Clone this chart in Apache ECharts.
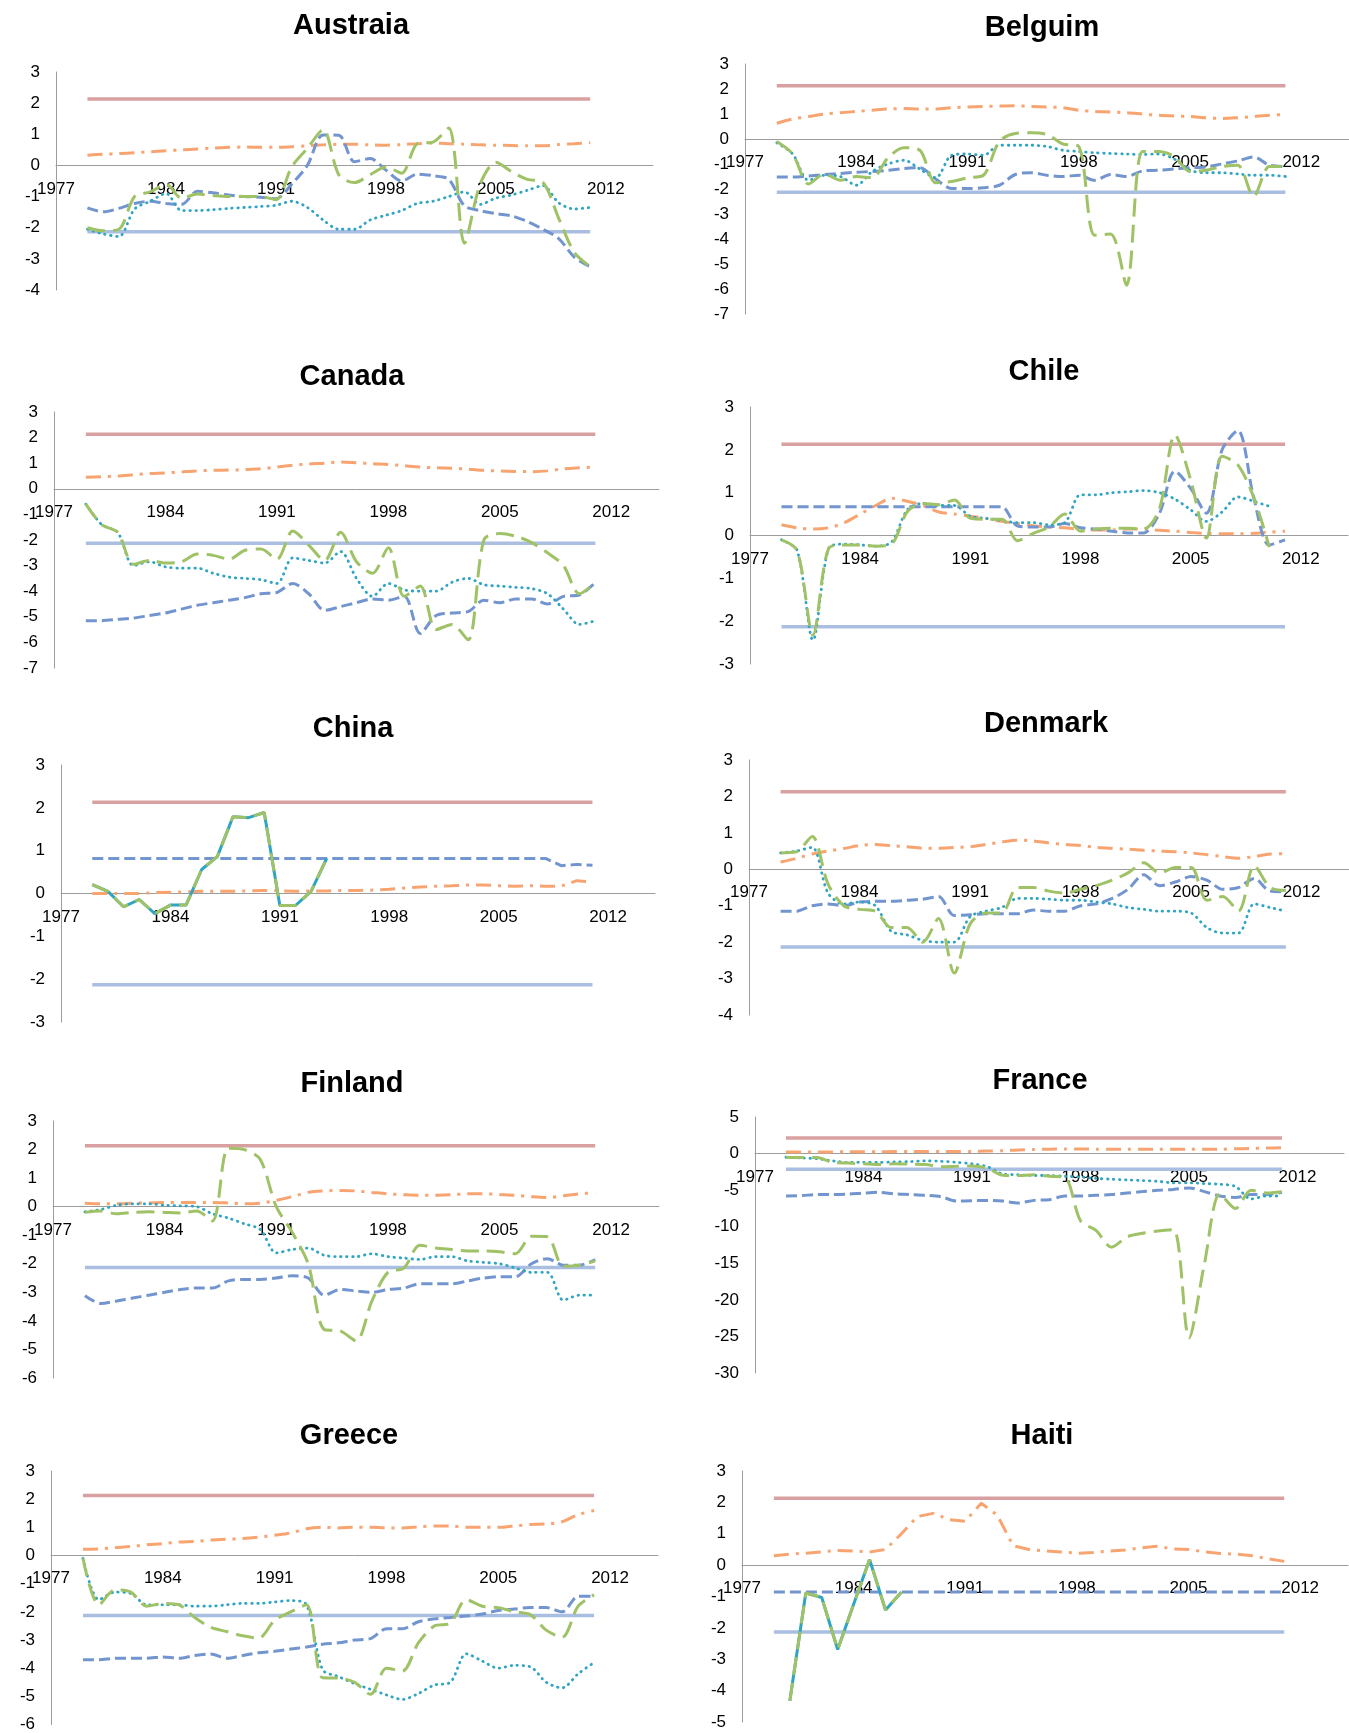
<!DOCTYPE html>
<html>
<head>
<meta charset="utf-8">
<title>Country panels</title>
<script src="https://cdn.jsdelivr.net/npm/echarts@6/dist/echarts.min.js"></script>
<style>
  html, body { margin: 0; padding: 0; background: #ffffff; }
  #chart { width: 1349px; height: 1733px; }
</style>
</head>
<body>
<div id="chart"></div>
<script>
// Annual observations 1979-2011
const years = [1979,1980,1981,1982,1983,1984,1985,1986,1987,1988,1989,1990,1991,1992,1993,1994,1995,1996,1997,1998,1999,2000,2001,2002,2003,2004,2005,2006,2007,2008,2009,2010,2011];
const xTickLabels = [1977, 1984, 1991, 1998, 2005, 2012];
const upperBound = 2.13;
const lowerBound = -2.13;

// Austraia
const austraiaDashDot = [0.33,0.36,0.38,0.41,0.44,0.47,0.50,0.53,0.56,0.58,0.59,0.58,0.58,0.60,0.63,0.66,0.68,0.68,0.66,0.65,0.67,0.70,0.72,0.70,0.68,0.66,0.65,0.64,0.63,0.63,0.67,0.70,0.73];
const austraiaDash = [-1.36,-1.49,-1.38,-1.22,-1.15,-1.22,-1.25,-0.83,-0.88,-0.95,-1.0,-1.02,-1.07,-0.6,0.0,0.98,0.97,0.12,0.22,-0.15,-0.5,-0.28,-0.33,-0.45,-1.3,-1.45,-1.55,-1.62,-1.8,-2.05,-2.35,-2.95,-3.25];
const austraiaLongDash = [-2.0,-2.1,-2.05,-1.0,-0.85,-0.6,-1.05,-0.92,-0.97,-1.0,-1.0,-1.0,-1.1,-0.05,0.55,1.15,-0.3,-0.55,-0.3,-0.05,-0.25,0.7,0.75,1.2,-2.5,-0.6,0.1,-0.2,-0.45,-0.55,-1.7,-2.8,-3.25];
const austraiaDot = [-2.05,-2.2,-2.28,-1.4,-1.15,-0.9,-1.45,-1.45,-1.42,-1.38,-1.35,-1.32,-1.28,-1.15,-1.35,-1.75,-2.05,-2.05,-1.75,-1.6,-1.45,-1.22,-1.15,-1.0,-0.85,-1.25,-1.05,-0.95,-0.8,-0.65,-1.2,-1.4,-1.35];

// Belgium
const belgiumDashDot = [0.63,0.8,0.9,1.0,1.05,1.1,1.15,1.2,1.22,1.2,1.2,1.25,1.28,1.3,1.32,1.33,1.3,1.28,1.25,1.15,1.1,1.08,1.05,1.0,0.95,0.92,0.9,0.85,0.82,0.85,0.9,0.95,0.98];
const belgiumDash = [-1.52,-1.52,-1.48,-1.42,-1.38,-1.33,-1.3,-1.25,-1.18,-1.15,-1.6,-1.98,-1.98,-1.95,-1.85,-1.42,-1.35,-1.45,-1.5,-1.45,-1.65,-1.42,-1.5,-1.28,-1.25,-1.2,-1.15,-1.12,-1.0,-0.88,-0.72,-1.05,-1.1];
const belgiumLongDash = [-0.1,-0.6,-1.8,-1.4,-1.65,-1.5,-1.55,-0.75,-0.35,-0.45,-1.75,-1.7,-1.55,-1.45,-0.1,0.22,0.25,0.18,-0.2,-0.3,-3.85,-3.8,-5.85,-0.5,-0.5,-0.7,-1.3,-1.25,-1.1,-1.05,-2.3,-1.1,-1.1];
const belgiumDot = [-0.15,-0.6,-1.65,-1.45,-1.5,-1.85,-1.3,-1.0,-0.85,-1.2,-1.55,-0.65,-0.6,-0.65,-0.25,-0.25,-0.25,-0.3,-0.45,-0.5,-0.55,-0.58,-0.6,-0.62,-0.6,-0.8,-1.25,-1.35,-1.35,-1.4,-1.45,-1.45,-1.5];

// Canada
const canadaDashDot = [0.45,0.47,0.5,0.55,0.6,0.62,0.66,0.7,0.72,0.73,0.75,0.78,0.85,0.92,0.97,1.0,1.05,1.02,0.98,0.95,0.9,0.85,0.82,0.8,0.77,0.72,0.7,0.68,0.67,0.7,0.78,0.82,0.85];
const canadaDash = [-5.15,-5.15,-5.1,-5.05,-4.95,-4.85,-4.7,-4.55,-4.45,-4.35,-4.25,-4.1,-4.05,-3.7,-4.1,-4.75,-4.6,-4.45,-4.3,-4.35,-4.2,-5.65,-4.95,-4.85,-4.8,-4.35,-4.45,-4.3,-4.3,-4.5,-4.2,-4.15,-3.65];
const canadaLongDash = [-0.6,-1.4,-1.7,-2.95,-2.8,-2.9,-2.85,-2.55,-2.6,-2.75,-2.4,-2.35,-2.75,-1.65,-2.2,-2.8,-1.7,-2.85,-3.3,-2.3,-4.2,-3.8,-5.5,-5.3,-5.9,-2.0,-1.75,-1.85,-2.1,-2.5,-3.0,-4.1,-3.65];
const canadaDot = [-0.6,-1.4,-1.7,-3.0,-2.85,-3.05,-3.1,-3.1,-3.3,-3.45,-3.5,-3.55,-3.7,-2.7,-2.8,-2.9,-2.45,-3.5,-4.2,-3.7,-3.95,-4.0,-4.0,-3.65,-3.5,-3.75,-3.8,-3.85,-3.9,-4.1,-4.7,-5.3,-5.15];

// Chile
const chileDashDot = [0.25,0.18,0.15,0.18,0.3,0.5,0.7,0.87,0.8,0.7,0.55,0.5,0.45,0.4,0.33,0.28,0.23,0.2,0.18,0.14,0.13,0.13,0.15,0.15,0.12,0.1,0.07,0.05,0.04,0.04,0.05,0.08,0.1];
const chileDash = [0.67,0.67,0.67,0.67,0.67,0.67,0.67,0.67,0.67,0.67,0.67,0.67,0.67,0.67,0.67,0.22,0.2,0.2,0.28,0.18,0.15,0.1,0.06,0.06,0.5,1.5,1.1,0.52,2.0,2.45,0.9,-0.22,-0.1];
const chileLongDash = [-0.1,-0.35,-2.32,-0.3,-0.22,-0.22,-0.25,-0.2,0.56,0.75,0.72,0.83,0.4,0.38,0.38,-0.12,0.05,0.2,0.5,0.1,0.15,0.17,0.17,0.15,0.6,2.35,1.3,-0.06,1.85,1.65,0.9,-0.27,null];
const chileDot = [-0.1,-0.35,-2.44,-0.3,-0.2,-0.22,-0.25,-0.15,0.6,0.75,0.7,0.7,0.45,0.4,0.35,0.3,0.3,0.25,0.3,0.95,0.95,1.0,1.02,1.05,1.0,0.85,0.6,0.33,0.55,0.9,0.8,0.68,null];

// China
const chinaDashDot = [0.0,0.0,0.0,0.0,0.02,0.03,0.04,0.05,0.05,0.05,0.06,0.07,0.06,0.05,0.06,0.06,0.07,0.07,0.08,0.1,0.13,0.15,0.17,0.18,0.2,0.2,0.18,0.17,0.18,0.17,0.17,0.3,0.27];
const chinaDash = [0.82,0.82,0.82,0.82,0.82,0.82,0.82,0.82,0.82,0.82,0.82,0.82,0.82,0.82,0.82,0.82,0.82,0.82,0.82,0.82,0.82,0.82,0.82,0.82,0.82,0.82,0.82,0.82,0.82,0.82,0.65,0.68,0.66];
const chinaLongDash = [0.21,0.05,-0.31,-0.14,-0.47,-0.27,-0.27,0.56,0.86,1.79,1.77,1.89,-0.28,-0.28,0.05,0.82,null,null,null,null,null,null,null,null,null,null,null,null,null,null,null,null,null];
const chinaDot = [0.21,0.05,-0.31,-0.14,-0.47,-0.27,-0.27,0.56,0.86,1.79,1.77,1.89,-0.28,-0.28,0.05,0.82,null,null,null,null,null,null,null,null,null,null,null,null,null,null,null,null,null];

// Denmark
const denmarkDashDot = [0.2,0.3,0.42,0.5,0.57,0.65,0.68,0.65,0.62,0.58,0.58,0.6,0.62,0.68,0.75,0.8,0.78,0.72,0.68,0.65,0.6,0.58,0.55,0.52,0.5,0.48,0.45,0.4,0.35,0.3,0.35,0.42,0.43];
const denmarkDash = [-1.15,-1.15,-1.0,-0.95,-1.0,-0.9,-0.88,-0.88,-0.85,-0.82,-0.75,-1.27,-1.25,-1.22,-1.22,-1.22,-1.12,-1.15,-1.15,-1.0,-0.95,-0.8,-0.55,-0.15,-0.45,-0.35,-0.2,-0.3,-0.55,-0.5,-0.25,-0.6,-0.62];
const denmarkLongDash = [0.45,0.48,0.9,-0.4,-1.0,-1.1,-1.15,-1.6,-1.6,-2.0,-1.35,-2.85,-1.5,-1.2,-1.2,-0.5,-0.5,-0.6,-0.65,-0.55,-0.45,-0.3,-0.1,0.18,-0.1,0.05,0.05,-0.85,-0.75,-1.15,0.1,-0.5,-0.58];
const denmarkDot = [0.45,0.5,0.6,-0.65,-0.95,-0.9,-1.0,-1.7,-1.8,-1.95,-2.0,-2.0,-1.3,-1.15,-1.05,-0.8,-0.8,-0.82,-0.85,-0.85,-0.9,-0.95,-1.05,-1.1,-1.15,-1.15,-1.2,-1.6,-1.75,-1.75,-0.95,-1.05,-1.15];

// Finland
const finlandDashDot = [0.12,0.1,0.1,0.12,0.13,0.15,0.15,0.15,0.15,0.13,0.1,0.12,0.22,0.35,0.5,0.55,0.57,0.55,0.5,0.45,0.42,0.4,0.4,0.42,0.45,0.45,0.43,0.4,0.35,0.32,0.38,0.45,0.48];
const finlandDash = [-3.12,-3.39,-3.3,-3.2,-3.1,-3.0,-2.9,-2.85,-2.85,-2.6,-2.55,-2.55,-2.5,-2.42,-2.5,-3.1,-2.9,-2.95,-3.0,-2.9,-2.85,-2.7,-2.7,-2.7,-2.6,-2.5,-2.45,-2.45,-2.0,-1.82,-2.05,-2.05,-1.85];
const finlandLongDash = [-0.2,-0.15,-0.25,-0.2,-0.18,-0.2,-0.22,-0.15,-0.5,2.05,2.0,1.65,0.0,-0.9,-2.0,-4.3,-4.35,-4.7,-3.3,-2.3,-2.15,-1.35,-1.45,-1.5,-1.55,-1.55,-1.58,-1.65,-1.04,-1.05,-2.09,-2.05,-1.9];
const finlandDot = [-0.18,-0.1,0.05,0.1,0.1,0.05,0.03,0.0,-0.25,-0.4,-0.6,-0.8,-1.62,-1.5,-1.45,-1.7,-1.75,-1.75,-1.65,-1.75,-1.8,-1.85,-1.75,-1.75,-1.9,-1.95,-2.0,-2.15,-2.3,-2.3,-3.27,-3.1,-3.1];

// France
const franceDashDot = [0.2,0.2,0.22,0.22,0.25,0.25,0.25,0.27,0.28,0.28,0.3,0.3,0.3,0.35,0.4,0.5,0.55,0.6,0.62,0.62,0.6,0.6,0.6,0.6,0.6,0.6,0.6,0.6,0.6,0.65,0.7,0.75,0.8];
const franceDash = [-5.8,-5.75,-5.6,-5.6,-5.55,-5.4,-5.3,-5.5,-5.6,-5.7,-5.9,-6.5,-6.45,-6.4,-6.5,-6.75,-6.4,-6.3,-5.8,-5.8,-5.7,-5.6,-5.4,-5.2,-5.0,-4.9,-4.7,-5.2,-5.8,-6.0,-5.6,-5.6,-5.3];
const franceLongDash = [-0.55,-0.55,-0.55,-1.2,-1.3,-1.4,-1.5,-1.4,-1.45,-1.5,-1.8,-1.75,-1.7,-2.0,-2.96,-3.0,-2.9,-3.1,-3.28,-9.2,-10.5,-12.8,-11.4,-10.9,-10.6,-10.4,-25.2,-15.0,-5.5,-7.5,-5.0,-5.4,-5.2];
const franceDot = [-0.5,-0.6,-0.7,-1.0,-1.2,-1.2,-1.2,-1.15,-1.1,-1.0,-1.05,-1.2,-1.4,-1.8,-2.8,-2.9,-3.0,-3.0,-3.1,-3.2,-3.4,-3.5,-3.6,-3.7,-3.8,-4.0,-4.0,-4.1,-4.2,-4.5,-6.2,-5.8,-5.8];

// Greece
const greeceDashDot = [0.22,0.23,0.28,0.32,0.38,0.42,0.48,0.5,0.55,0.58,0.6,0.65,0.72,0.8,0.95,1.0,0.98,1.0,1.0,0.98,0.98,1.02,1.05,1.05,1.0,1.0,1.0,1.05,1.1,1.12,1.2,1.45,1.6];
const greeceDash = [-3.7,-3.7,-3.65,-3.65,-3.65,-3.6,-3.65,-3.55,-3.5,-3.65,-3.55,-3.45,-3.4,-3.32,-3.25,-3.15,-3.1,-3.0,-2.95,-2.6,-2.6,-2.35,-2.25,-2.2,-2.15,-2.08,-1.95,-1.9,-1.85,-1.85,-2.0,-1.45,-1.45];
const greeceLongDash = [-0.1,-1.75,-1.22,-1.3,-1.8,-1.7,-1.75,-2.2,-2.55,-2.7,-2.85,-2.93,-2.3,-2.0,-1.75,-4.34,-4.35,-4.5,-4.93,-4.0,-4.1,-3.1,-2.5,-2.4,-1.57,-1.8,-1.85,-2.0,-2.1,-2.65,-2.9,-1.8,-1.4];
const greeceDot = [-0.1,-1.57,-1.3,-1.35,-1.75,-1.75,-1.75,-1.8,-1.8,-1.75,-1.7,-1.7,-1.65,-1.6,-1.75,-4.05,-4.3,-4.55,-4.75,-4.95,-5.11,-4.9,-4.6,-4.5,-3.49,-3.75,-4.0,-3.9,-3.95,-4.5,-4.7,-4.2,-3.8];

// Haiti
const haitiDashDot = [0.3,0.35,0.38,0.42,0.47,0.45,0.42,0.5,1.0,1.55,1.65,1.45,1.4,1.97,1.6,0.62,0.5,0.45,0.42,0.38,0.4,0.45,0.48,0.55,0.6,0.52,0.5,0.42,0.37,0.35,0.3,0.2,0.12];
const haitiDash = [-0.86,-0.86,-0.86,-0.86,-0.86,-0.86,-0.86,-0.86,-0.86,-0.86,-0.86,-0.86,-0.86,-0.86,-0.86,-0.86,-0.86,-0.86,-0.86,-0.86,-0.86,-0.86,-0.86,-0.86,-0.86,-0.86,-0.86,-0.86,-0.86,-0.86,-0.86,-0.86,-0.86];
const haitiLongDash = [null,-4.32,-0.89,-1.03,-2.69,-1.25,0.18,-1.43,-0.86,null,null,null,null,null,null,null,null,null,null,null,null,null,null,null,null,null,null,null,null,null,null,null,null];
const haitiDot = [null,-4.32,-0.89,-1.03,-2.69,-1.25,0.18,-1.43,-0.86,null,null,null,null,null,null,null,null,null,null,null,null,null,null,null,null,null,null,null,null,null,null,null,null];

// Panel definitions: data and y-axis range
const panels = [
  { name: 'Austraia', dashDot: austraiaDashDot, dash: austraiaDash, longDash: austraiaLongDash, dot: austraiaDot, yMin: -4, yMax: 3, yStep: 1 },
  { name: 'Belguim', dashDot: belgiumDashDot, dash: belgiumDash, longDash: belgiumLongDash, dot: belgiumDot, yMin: -7, yMax: 3, yStep: 1 },
  { name: 'Canada', dashDot: canadaDashDot, dash: canadaDash, longDash: canadaLongDash, dot: canadaDot, yMin: -7, yMax: 3, yStep: 1 },
  { name: 'Chile', dashDot: chileDashDot, dash: chileDash, longDash: chileLongDash, dot: chileDot, yMin: -3, yMax: 3, yStep: 1 },
  { name: 'China', dashDot: chinaDashDot, dash: chinaDash, longDash: chinaLongDash, dot: chinaDot, yMin: -3, yMax: 3, yStep: 1 },
  { name: 'Denmark', dashDot: denmarkDashDot, dash: denmarkDash, longDash: denmarkLongDash, dot: denmarkDot, yMin: -4, yMax: 3, yStep: 1 },
  { name: 'Finland', dashDot: finlandDashDot, dash: finlandDash, longDash: finlandLongDash, dot: finlandDot, yMin: -6, yMax: 3, yStep: 1 },
  { name: 'France', dashDot: franceDashDot, dash: franceDash, longDash: franceLongDash, dot: franceDot, yMin: -30, yMax: 5, yStep: 5 },
  { name: 'Greece', dashDot: greeceDashDot, dash: greeceDash, longDash: greeceLongDash, dot: greeceDot, yMin: -6, yMax: 3, yStep: 1 },
  { name: 'Haiti', dashDot: haitiDashDot, dash: haitiDash, longDash: haitiLongDash, dot: haitiDot, yMin: -5, yMax: 3, yStep: 1 }
];

// Page layout of each panel (pixels): plot box, title centre, line smoothing
const layouts = [
  { left: 56,  top: 72,   width: 597, height: 218, tx: 346,  ty: 22,   smooth: true },
  { left: 745, top: 64,   width: 604, height: 250, tx: 1037, ty: 24,   smooth: true },
  { left: 54,  top: 412,  width: 605, height: 256, tx: 347,  ty: 373,  smooth: true },
  { left: 750, top: 407,  width: 598, height: 257, tx: 1039, ty: 368,  smooth: true },
  { left: 61,  top: 765,  width: 594, height: 257, tx: 348,  ty: 725,  smooth: false },
  { left: 749, top: 760,  width: 602, height: 255, tx: 1041, ty: 720,  smooth: true },
  { left: 53,  top: 1121, width: 606, height: 257, tx: 347,  ty: 1080, smooth: true },
  { left: 755, top: 1117, width: 589, height: 256, tx: 1035, ty: 1077, smooth: true },
  { left: 51,  top: 1471, width: 607, height: 254, tx: 344,  ty: 1432, smooth: true },
  { left: 742, top: 1471, width: 606, height: 251, tx: 1037, ty: 1432, smooth: false }
];

const FONT = "'Liberation Sans', Arial, sans-serif";
const COLORS = {
  upper: '#D8A0A0',
  lower: '#A9BEE0',
  dashDot: '#F8A470',
  dash: '#7395CF',
  longDash: '#9FC266',
  dot: '#2FA4C3'
};

function toPairs(values) {
  return years.map((y, i) => [y, values[i] === null ? '-' : values[i]]);
}

const option = {
  animation: false,
  backgroundColor: '#ffffff',
  title: [],
  grid: [],
  xAxis: [],
  yAxis: [],
  series: []
};

panels.forEach((p, i) => {
  const L = layouts[i];
  // the year axis sits on the zero line of each panel
  const zeroOffset = -L.height * (0 - p.yMin) / (p.yMax - p.yMin);
  option.title.push({
    text: p.name,
    left: L.tx,
    top: L.ty - 16,
    textAlign: 'center',
    textStyle: { fontFamily: FONT, fontSize: 29, fontWeight: 'bold', color: '#000000' }
  });
  option.grid.push({ left: L.left, top: L.top, width: L.width, height: L.height, containLabel: false });
  option.xAxis.push({
    type: 'value', gridIndex: i, position: 'bottom', offset: zeroOffset,
    min: 1977, max: 2015, interval: 7,
    splitLine: { show: false },
    axisTick: { show: false },
    axisLine: { show: true, onZero: false, lineStyle: { color: '#9C9C9C', width: 1 } },
    axisLabel: {
      fontFamily: FONT, fontSize: 17, color: '#000000', margin: 15,
      showMaxLabel: false,
      formatter: v => (xTickLabels.indexOf(v) >= 0 ? String(v) : '')
    }
  });
  option.yAxis.push({
    type: 'value', gridIndex: i,
    min: p.yMin, max: p.yMax, interval: p.yStep,
    splitLine: { show: false },
    axisTick: { show: false },
    axisLine: { show: true, onZero: false, lineStyle: { color: '#9C9C9C', width: 1 } },
    axisLabel: { fontFamily: FONT, fontSize: 17, color: '#000000', margin: 16 }
  });

  const base = { type: 'line', xAxisIndex: i, yAxisIndex: i, symbol: 'none', silent: true, connectNulls: false };
  const sm = L.smooth ? 0.3 : false;

  option.series.push(Object.assign({}, base, {
    name: p.name + ' upper',
    data: [[years[0], upperBound], [years[years.length - 1], upperBound]],
    lineStyle: { color: COLORS.upper, width: 3.5 }
  }));
  option.series.push(Object.assign({}, base, {
    name: p.name + ' lower',
    data: [[years[0], lowerBound], [years[years.length - 1], lowerBound]],
    lineStyle: { color: COLORS.lower, width: 3.5 }
  }));
  option.series.push(Object.assign({}, base, {
    name: p.name + ' dash-dot',
    smooth: sm,
    data: toPairs(p.dashDot),
    lineStyle: { color: COLORS.dashDot, width: 3, type: [15, 7, 3, 7] }
  }));
  option.series.push(Object.assign({}, base, {
    name: p.name + ' dash',
    smooth: sm,
    data: toPairs(p.dash),
    lineStyle: { color: COLORS.dash, width: 3, type: [11, 5] }
  }));
  option.series.push(Object.assign({}, base, {
    name: p.name + ' dot',
    smooth: sm,
    data: toPairs(p.dot),
    lineStyle: L.smooth
      ? { color: COLORS.dot, width: 2.8, type: [0.5, 5.5], cap: 'round' }
      : { color: COLORS.dot, width: 3 }
  }));
  option.series.push(Object.assign({}, base, {
    name: p.name + ' long dash',
    smooth: sm,
    data: toPairs(p.longDash),
    lineStyle: { color: COLORS.longDash, width: 3, type: [18, 8] }
  }));
});

const chart = echarts.init(document.getElementById('chart'), null, { renderer: 'canvas' });
chart.setOption(option);
</script>
</body>
</html>
